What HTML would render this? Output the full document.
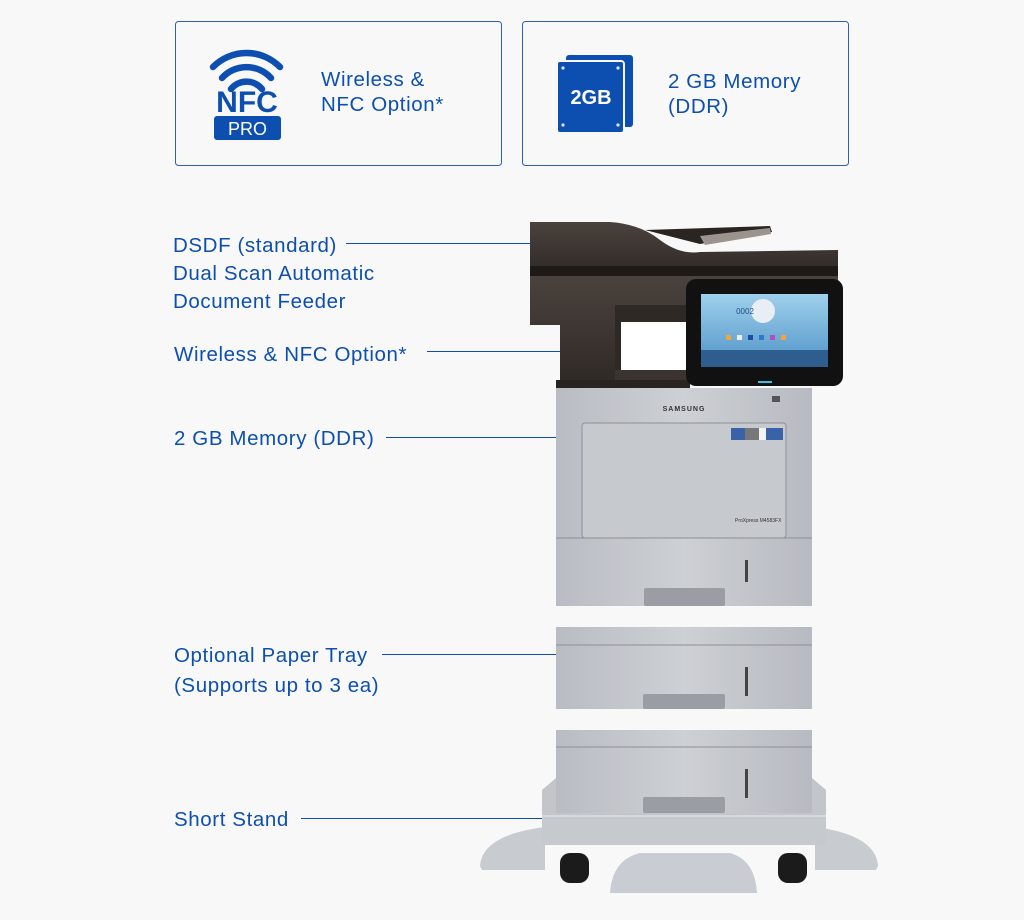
<!DOCTYPE html>
<html><head><meta charset="utf-8"><style>
html,body{margin:0;padding:0;background:#f8f8f8;}
svg{display:block}
text{font-family:"Liberation Sans","DejaVu Sans",sans-serif;}
.l{fill:#0d4fb0;font-size:20.5px;letter-spacing:0.6px;}
</style></head><body>
<svg width="1024" height="920" viewBox="0 0 1024 920" xmlns="http://www.w3.org/2000/svg">
<defs>
<linearGradient id="gr" x1="0" y1="0" x2="1" y2="0"><stop offset="0" stop-color="#b9bcc2"/><stop offset="0.5" stop-color="#cdd0d5"/><stop offset="1" stop-color="#b7bac0"/></linearGradient>
<linearGradient id="dk" x1="0" y1="0" x2="0" y2="1"><stop offset="0" stop-color="#4a423d"/><stop offset="1" stop-color="#2f2926"/></linearGradient>
<linearGradient id="sc" x1="0" y1="0" x2="0" y2="1"><stop offset="0" stop-color="#9fd0ec"/><stop offset="1" stop-color="#4f93c8"/></linearGradient>
</defs>
<rect width="1024" height="920" fill="#f8f8f8"/>
<!-- top boxes -->
<rect x="175.5" y="21.5" width="326" height="144" rx="3" fill="#f8f8f8" stroke="#2d5fb3"/>
<rect x="522.5" y="21.5" width="326" height="144" rx="3" fill="#f8f8f8" stroke="#2d5fb3"/>
<g fill="none" stroke="#0d4fb0" stroke-width="6.5" stroke-linecap="round">
<path d="M213 67 A47 47 0 0 1 280 67"/>
<path d="M222 78 A33 33 0 0 1 271 78"/>
<path d="M231 89 A20 20 0 0 1 262 89"/>
</g>
<text x="247" y="112" text-anchor="middle" font-size="30" font-weight="bold" fill="#0d4fb0">NFC</text>
<rect x="214" y="116" width="67" height="24" rx="3" fill="#0d4fb0"/>
<text x="247.5" y="135" text-anchor="middle" font-size="18" fill="#fff">PRO</text>
<text class="l" x="321" y="86">Wireless &amp;</text>
<text class="l" x="321" y="111">NFC Option*</text>
<rect x="566" y="55" width="67" height="72" rx="3" fill="#0d4fb0"/>
<rect x="557" y="61" width="67" height="72" rx="3" fill="#0d4fb0" stroke="#f8f8f8" stroke-width="2"/>
<g fill="#dfe8f5"><circle cx="563" cy="68" r="1.6"/><circle cx="618" cy="68" r="1.6"/><circle cx="563" cy="125" r="1.6"/><circle cx="618" cy="125" r="1.6"/></g>
<text x="591" y="104" text-anchor="middle" font-size="20" font-weight="bold" fill="#fff">2GB</text>
<text class="l" x="668" y="88">2 GB Memory</text>
<text class="l" x="668" y="113">(DDR)</text>

<!-- labels -->
<g stroke="#0d4fb0" stroke-width="1">
<line x1="346" y1="243.5" x2="531" y2="243.5"/>
<line x1="427" y1="351.5" x2="562" y2="351.5"/>
<line x1="386" y1="437.5" x2="557" y2="437.5"/>
<line x1="382" y1="654.5" x2="557" y2="654.5"/>
<line x1="301" y1="818.5" x2="543" y2="818.5"/>
</g>
<text class="l" x="173" y="252">DSDF (standard)</text>
<text class="l" x="173" y="280">Dual Scan Automatic</text>
<text class="l" x="173" y="308">Document Feeder</text>
<text class="l" x="174" y="361">Wireless &amp;  NFC Option*</text>
<text class="l" x="174" y="445">2 GB Memory (DDR)</text>
<text class="l" x="174" y="662">Optional Paper Tray</text>
<text class="l" x="174" y="692">(Supports up to 3 ea)</text>
<text class="l" x="174" y="826">Short Stand</text>

<!-- printer top (dark) -->
<path d="M530 222 L610 222 Q640 224 660 240 Q680 255 700 252 L838 250 L838 275 L530 275 Z" fill="url(#dk)"/>
<path d="M645 230 L770 226 L772 232 L700 244 Z" fill="#2b2522"/>
<path d="M700 236 L770 228 L771 234 L705 245 Z" fill="#9a938e"/>
<rect x="530" y="266" width="308" height="10" fill="#1e1a18"/>
<path d="M530 276 L838 276 L838 305 L615 305 L615 385 L560 385 L560 325 L530 325 Z" fill="url(#dk)"/>
<rect x="615" y="305" width="75" height="80" fill="#2f2926"/>
<rect x="621" y="322" width="69" height="48" fill="#ffffff"/>
<rect x="615" y="370" width="75" height="18" fill="#3a3330"/>
<rect x="556" y="380" width="134" height="9" fill="#2a2421"/>
<!-- screen -->
<rect x="686" y="279" width="157" height="107" rx="10" fill="#111"/>
<rect x="701" y="294" width="127" height="73" fill="url(#sc)"/>
<rect x="701" y="350" width="127" height="17" fill="#2d5e8e"/>
<circle cx="763" cy="311" r="12" fill="#e8eef3"/>
<text x="745" y="314" font-size="8" fill="#1f4f8c" text-anchor="middle">0002</text>
<g fill="#f2a33a"><rect x="726" y="335" width="5" height="5"/><rect x="737" y="335" width="5" height="5" fill="#eee"/><rect x="748" y="335" width="5" height="5" fill="#1d4fa0"/><rect x="759" y="335" width="5" height="5" fill="#2a7bd0"/><rect x="770" y="335" width="5" height="5" fill="#b04fc0"/><rect x="781" y="335" width="5" height="5"/></g>
<rect x="758" y="381" width="14" height="2" fill="#3ac0e0"/>

<!-- main body -->
<rect x="556" y="388" width="256" height="218" fill="url(#gr)"/>
<text x="684" y="411" font-size="7" font-weight="bold" fill="#333" text-anchor="middle" letter-spacing="1">SAMSUNG</text>
<rect x="772" y="396" width="8" height="6" fill="#555"/>
<rect x="582" y="423" width="204" height="115" rx="3" fill="#c6c9ce" stroke="#8d9096"/>
<rect x="731" y="428" width="52" height="12" fill="#3a62a8"/>
<rect x="745" y="428" width="14" height="12" fill="#777"/>
<rect x="759" y="428" width="7" height="12" fill="#f2f2f2"/>
<text x="735" y="522" font-size="5" fill="#333">ProXpress M4583FX</text>
<line x1="556" y1="538" x2="812" y2="538" stroke="#8d9096"/>
<rect x="644" y="588" width="81" height="18" rx="2" fill="#9a9da3"/>
<rect x="745" y="560" width="3" height="22" fill="#444"/>

<!-- tray 2 -->
<rect x="556" y="627" width="256" height="82" fill="url(#gr)"/>
<line x1="556" y1="645" x2="812" y2="645" stroke="#8d9096"/>
<rect x="643" y="694" width="82" height="15" rx="2" fill="#9a9da3"/>
<rect x="745" y="667" width="3" height="29" fill="#444"/>

<!-- stand feet -->
<path d="M480 866 Q482 835 545 827 L545 870 L482 870 Z" fill="#c8cbd0"/>
<path d="M878 866 Q876 835 815 827 L815 870 L876 870 Z" fill="#c8cbd0"/>
<path d="M610 893 Q612 860 640 853 L730 853 Q755 860 757 893 Z" fill="#c9ccd2"/>
<path d="M542 790 L556 778 L812 778 L826 790 L826 845 L542 845 Z" fill="#c2c5ca"/>
<rect x="542" y="815" width="284" height="30" fill="#c6c9ce"/>
<!-- tray 3 -->
<rect x="556" y="730" width="256" height="83" fill="url(#gr)"/>
<line x1="556" y1="747" x2="812" y2="747" stroke="#8d9096"/>
<rect x="643" y="797" width="82" height="16" rx="2" fill="#9a9da3"/>
<rect x="745" y="769" width="3" height="29" fill="#444"/>
<line x1="542" y1="816" x2="826" y2="816" stroke="#e6e8ea"/>
<!-- wheels -->
<rect x="560" y="853" width="29" height="30" rx="10" fill="#1b1b1b"/>
<rect x="778" y="853" width="29" height="30" rx="10" fill="#1b1b1b"/>
</svg>
</body></html>
